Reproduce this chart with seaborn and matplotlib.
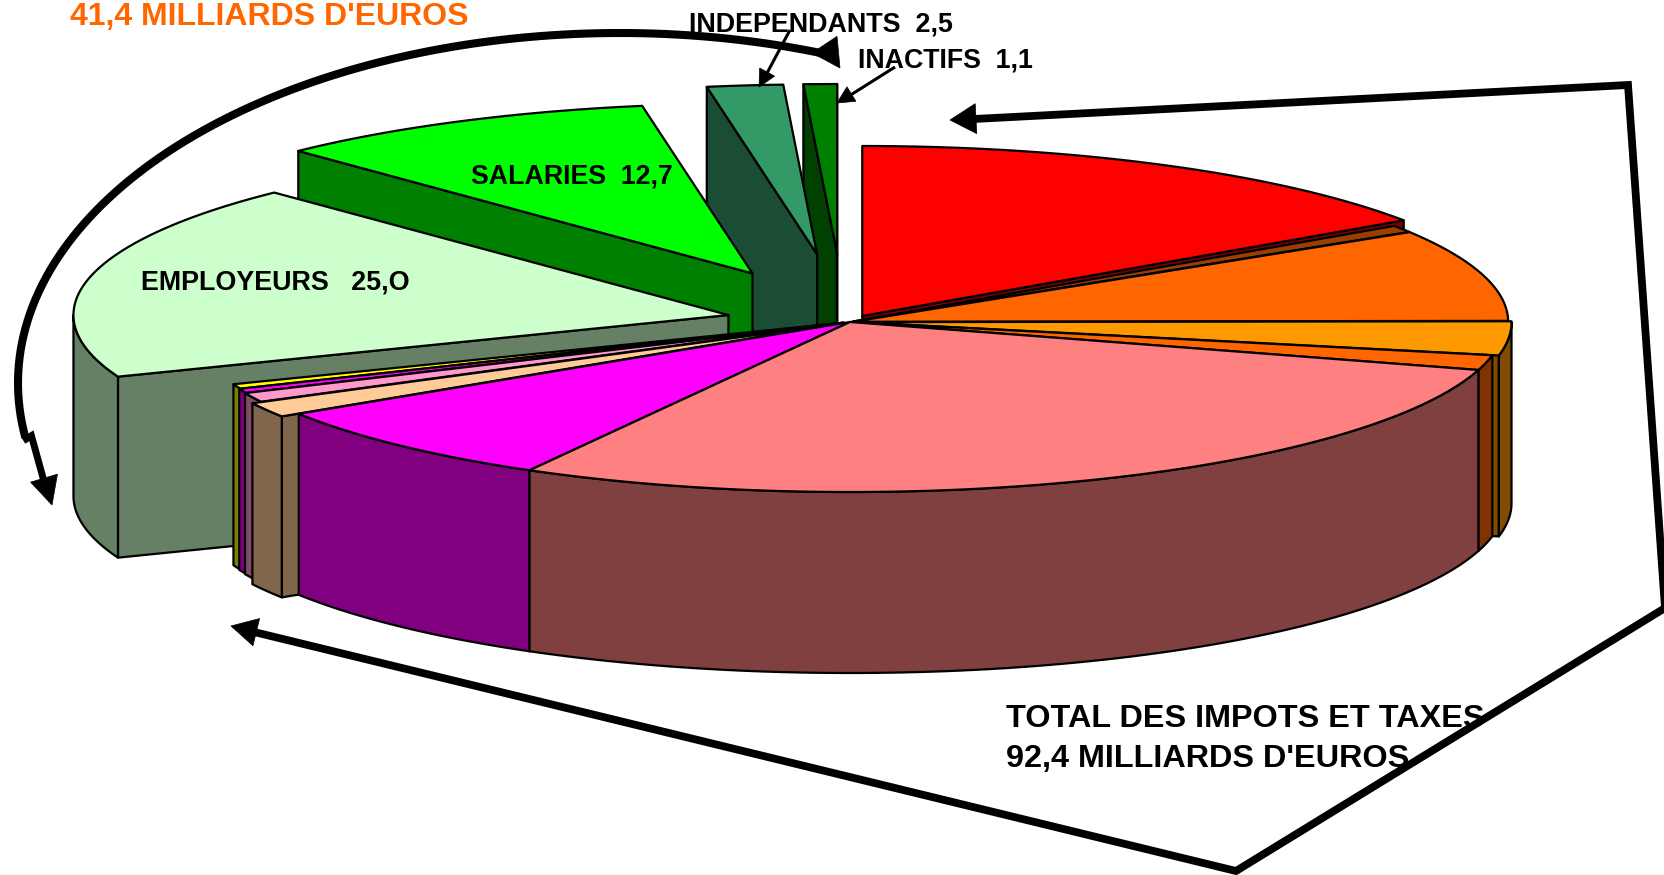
import numpy as np
import pandas as pd
import seaborn as sns
import matplotlib
matplotlib.use("Agg")
import matplotlib.pyplot as plt
from matplotlib.patches import Polygon

sns.set_theme(style="white")
plt.rcParams['font.family'] = ['Liberation Sans', 'DejaVu Sans']

# --- data (milliards d'euros), clockwise from 12 o'clock
slices = ["Impot1", "Impot2", "Impot3", "Impot4", "Impot5", "Impot6", "Impot7", "Impot8",
          "Impot9", "Impot10", "Impot11", "EMPLOYEURS", "SALARIES", "INDEPENDANTS", "INACTIFS"]
values = [20.7, 0.9, 11.7, 4.3, 1.9, 38.2, 10.4, 1.9, 1.2, 0.55, 0.6, 25.0, 12.7, 2.5, 1.1]
explode = [0.04, 0.005, 0.005, 0.01, 0.0, 0.0, 0.0, 0.03, 0.014, 0.012, 0.01, 0.19, 0.32, 0.40, 0.40]
nudge_x = [0, 0, 0, 0, 0, 0, 0, 0, 0, 0, 0, 0, -3, -4, -6]
colors = ["#FF0000", "#994000", "#FF6600", "#FF9900", "#FF6600", "#FF8080", "#FF00FF", "#FFCC99",
          "#FF99CC", "#FF00FF", "#FFFF00", "#CCFFCC", "#00FF00", "#339966", "#008000"]

# --- layout of the tilted pie
CX, CY, RX, RY, DEPTH = 850, 322, 655, 170, 181
LW = 1.6

df = pd.DataFrame({"name": slices, "value": values, "explode": explode,
                   "nudge": nudge_x, "color": colors})
ang = 360 * df["value"] / df["value"].sum()
df["t1"] = ang.cumsum()
df["t0"] = df["t1"] - ang
df["mid"] = (df["t0"] + df["t1"]) / 2
df["order"] = (df["mid"] - 180).abs()


def pt(t, ox, oy, r=1.0):
    t = np.radians(t)
    return np.column_stack([ox + RX * r * np.sin(t), oy - RY * r * np.cos(t)])


fig = plt.figure(figsize=(16.64, 8.75), dpi=100)
ax = fig.add_axes([0, 0, 1, 1])
ax.set_xlim(0, 1664)
ax.set_ylim(875, 0)
ax.set_axis_off()
sns.despine(ax=ax, left=True, bottom=True)


def poly(xy, fc, z):
    ax.add_patch(Polygon(xy, closed=True, fc=fc, ec="black", lw=LW, joinstyle="round", zorder=z))


z = 2
for _, w in df.sort_values("order", ascending=False).iterrows():
    m = np.radians(w["mid"])
    ox = CX + RX * w["explode"] * np.sin(m) + w["nudge"]
    oy = CY - RY * w["explode"] * np.cos(m)
    top = sns.color_palette([w["color"]])[0]
    side = tuple(c * 0.5 for c in top)
    apex = np.array([[ox, oy]])
    down = np.array([0, DEPTH])
    # cut faces turned towards the viewer
    for t, visible in ((w["t0"], np.sin(np.radians(w["t0"])) < 0),
                       (w["t1"], np.sin(np.radians(w["t1"])) > 0)):
        if visible:
            p = pt(t, ox, oy)
            poly(np.vstack([apex, p, p + down, apex + down]), side, z)
            z += 1
    # outer wall
    a, b = max(w["t0"], 90), min(w["t1"], 270)
    if b > a:
        arc = pt(np.linspace(a, b, 80), ox, oy)
        poly(np.vstack([arc, (arc + down)[::-1]]), side, z)
        z += 1
    # top
    arc = pt(np.linspace(w["t0"], w["t1"], 120), ox, oy)
    poly(np.vstack([apex, arc]), top, z)
    z += 1


def head(tip, frm, length, width):
    tip, frm = np.array(tip, float), np.array(frm, float)
    d = (tip - frm) / np.linalg.norm(tip - frm)
    n = np.array([-d[1], d[0]])
    base = tip - d * length
    ax.add_patch(Polygon([tip, base + n * width / 2, base - n * width / 2],
                         closed=True, fc="black", ec="black", lw=0.5, zorder=60))


def line(xs, ys, lw):
    ax.plot(xs, ys, color="black", lw=lw, solid_joinstyle="miter", solid_capstyle="butt", zorder=60)


# curved arrow around the contributions
th = np.radians(np.linspace(-99, 20.5, 200))
ex = 620 + 602 * np.sin(th)
ey = 383 - 350 * np.cos(th)
line(ex, ey, 5.8)
head((840, 68), (ex[-1] - 2, ey[-1] - 4), 28, 30)
line([ex[0] - 2, ex[0] + 6, 45], [ey[0] + 3, ey[0] - 2, 485], 5.0)
head((52, 505), (ex[0] + 6, ey[0] - 2), 28, 28)

# angular arrow around the taxes
line([974, 1628, 1665, 1236, 250], [119, 85, 608, 871, 631], 5.6)
head((950, 120), (1628, 85), 26, 30)
head((231, 626), (1236, 871), 26, 28)

# small label arrows
line([790, 766], [30, 75], 2.2)
head((759, 87), (790, 30), 17, 17)
line([895, 849], [67, 96], 2.2)
head((837, 103), (895, 67), 17, 17)

# texts
bold = dict(fontweight="bold", color="black", va="baseline", ha="left", zorder=70)
ax.text(70, 25, "41,4 MILLIARDS D'EUROS", fontsize=23, **{**bold, "color": "#FF6600"})
ax.text(1006, 727, "TOTAL DES IMPOTS ET TAXES", fontsize=23.3, **bold)
ax.text(1006, 767, "92,4 MILLIARDS D'EUROS", fontsize=23.3, **bold)
ax.text(689, 32, "INDEPENDANTS  2,5", fontsize=19.4, **bold)
ax.text(858, 68, "INACTIFS  1,1", fontsize=19.3, **bold)
ax.text(471, 184, "SALARIES  12,7", fontsize=19.3, **bold)
ax.text(141, 290, "EMPLOYEURS   25,O", fontsize=19.4, **bold)

fig.savefig("out.png", dpi=100, facecolor="white")
